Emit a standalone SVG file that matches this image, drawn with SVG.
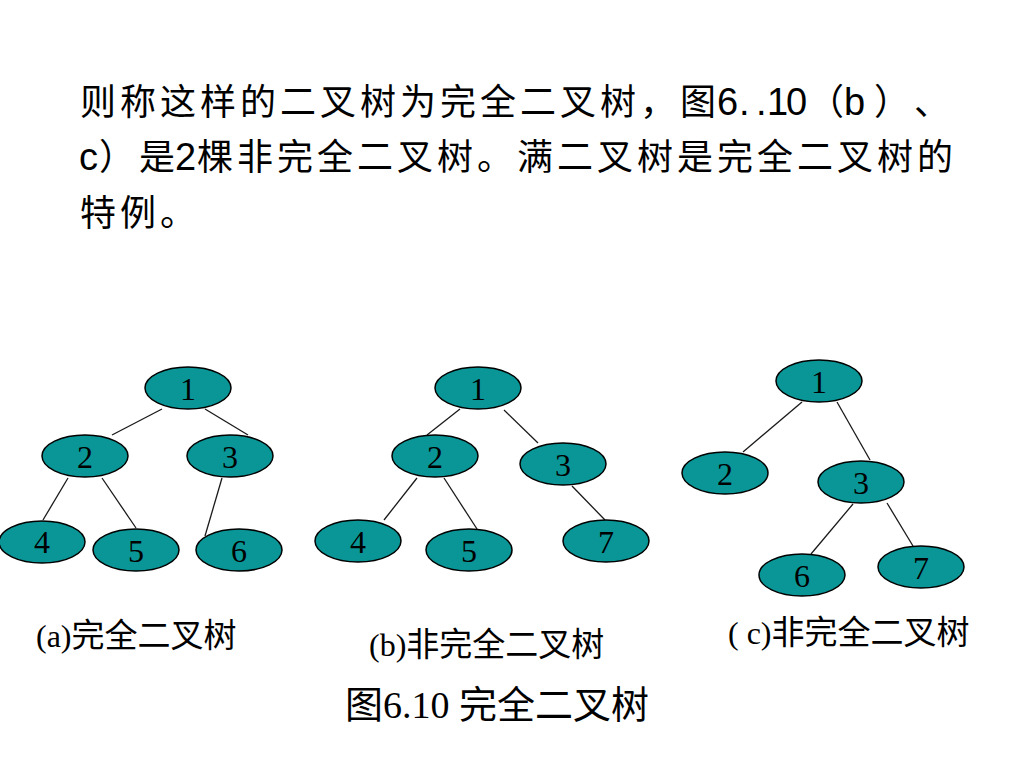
<svg xmlns="http://www.w3.org/2000/svg" width="1024" height="768" viewBox="0 0 1024 768">
<style>
.bg{fill:#ffffff}
.node ellipse{fill:#0A9696;stroke:#000000;stroke-width:1.5}
.node text{font-family:"Liberation Serif","Times New Roman",serif;font-size:32px;fill:#000000;text-anchor:middle}
.edges line{stroke:#1a1a1a;stroke-width:1.3}
.body{font-family:"Noto Sans CJK SC","Noto Sans CJK TC",sans-serif;font-size:36px;fill:#000000;letter-spacing:4px}
.one{letter-spacing:0}
.lat{font-family:"Liberation Sans",Arial,sans-serif;font-size:38px;letter-spacing:0}
.cap{font-family:"Liberation Serif","Times New Roman","Noto Sans CJK SC",serif;font-size:32px;fill:#000000}
.capc{font-family:"Noto Sans CJK SC","Noto Sans CJK TC",sans-serif;font-size:33px}
.title{font-family:"Liberation Serif","Times New Roman","Noto Sans CJK SC",serif;font-size:38px;fill:#000000}
.titc{font-family:"Noto Sans CJK SC",sans-serif;font-size:38px}
</style>
<rect class="bg" x="0" y="0" width="1024" height="768"/>

<g id="paragraph">
<text class="body" y="115"><tspan x="80">则称这样的二叉树为完全二叉树，</tspan><tspan class="one" x="680">图</tspan><tspan class="lat" x="717">6</tspan><tspan class="lat" x="739">.</tspan><tspan class="lat" x="756">.</tspan><tspan class="lat" x="767">1</tspan><tspan class="lat" x="786">0</tspan><tspan class="one" x="808">（</tspan><tspan class="lat" x="844">b</tspan><tspan class="one" x="874">）</tspan><tspan class="one" x="914">、</tspan></text>
<text class="body" y="170"><tspan class="lat" x="79">c</tspan><tspan class="one" x="99">）</tspan><tspan class="one" x="139">是</tspan><tspan class="lat" x="175">2</tspan><tspan x="197">棵非完全二叉树。满二叉树是完全二叉树的</tspan></text>
<text class="body" y="226"><tspan x="80">特例。</tspan></text>
</g>

<g id="connectors" class="edges">
<line x1="162" y1="409" x2="112" y2="435"/>
<line x1="205" y1="409" x2="248" y2="435"/>
<line x1="68" y1="478" x2="43" y2="520"/>
<line x1="102" y1="478" x2="136" y2="528"/>
<line x1="222" y1="478" x2="205" y2="536"/>

<line x1="460" y1="409" x2="427" y2="435"/>
<line x1="504" y1="410" x2="538" y2="443"/>
<line x1="417" y1="478" x2="384" y2="520"/>
<line x1="444" y1="478" x2="477" y2="529"/>
<line x1="572" y1="486" x2="605" y2="520"/>

<line x1="802" y1="402" x2="743" y2="452"/>
<line x1="837" y1="402" x2="870" y2="460"/>
<line x1="853" y1="504" x2="811" y2="554"/>
<line x1="887" y1="503" x2="913" y2="546"/>
</g>

<g id="a1" class="node"><ellipse cx="188" cy="388" rx="43" ry="21"/><text x="188" y="400">1</text></g>
<g id="a2" class="node"><ellipse cx="85" cy="456" rx="43" ry="21"/><text x="85" y="468">2</text></g>
<g id="a3" class="node"><ellipse cx="230" cy="456" rx="43" ry="21"/><text x="230" y="468">3</text></g>
<g id="a4" class="node"><ellipse cx="42" cy="542" rx="43" ry="21"/><text x="42" y="553">4</text></g>
<g id="a5" class="node"><ellipse cx="136" cy="550" rx="43" ry="21"/><text x="136" y="562">5</text></g>
<g id="a6" class="node"><ellipse cx="239" cy="550" rx="43" ry="21"/><text x="239" y="562">6</text></g>

<g id="b1" class="node"><ellipse cx="478" cy="388" rx="43" ry="21"/><text x="478" y="400">1</text></g>
<g id="b2" class="node"><ellipse cx="435" cy="456" rx="43" ry="21"/><text x="435" y="468">2</text></g>
<g id="b3" class="node"><ellipse cx="563" cy="464" rx="43" ry="21"/><text x="563" y="476">3</text></g>
<g id="b4" class="node"><ellipse cx="358" cy="541" rx="43" ry="21"/><text x="358" y="553">4</text></g>
<g id="b5" class="node"><ellipse cx="469" cy="550" rx="43" ry="21"/><text x="469" y="562">5</text></g>
<g id="b7" class="node"><ellipse cx="606" cy="541" rx="43" ry="21"/><text x="606" y="553">7</text></g>

<g id="c1" class="node"><ellipse cx="819" cy="381" rx="43" ry="21"/><text x="819" y="393">1</text></g>
<g id="c2" class="node"><ellipse cx="725" cy="473" rx="43" ry="21"/><text x="725" y="485">2</text></g>
<g id="c3" class="node"><ellipse cx="861" cy="482" rx="43" ry="21"/><text x="861" y="494">3</text></g>
<g id="c6" class="node"><ellipse cx="802" cy="575" rx="43" ry="21"/><text x="802" y="587">6</text></g>
<g id="c7" class="node"><ellipse cx="921" cy="567" rx="43" ry="21"/><text x="921" y="579">7</text></g>

<g id="captions">
<text class="cap" x="36" y="647">(a)<tspan class="capc">完全二叉树</tspan></text>
<text class="cap" x="369" y="656">(b)<tspan class="capc">非完全二叉树</tspan></text>
<text class="cap" x="728" y="644">( c)<tspan class="capc">非完全二叉树</tspan></text>
<text class="title" x="345" y="718"><tspan class="titc">图</tspan>6.10 <tspan class="titc">完全二叉树</tspan></text>
</g>
</svg>
